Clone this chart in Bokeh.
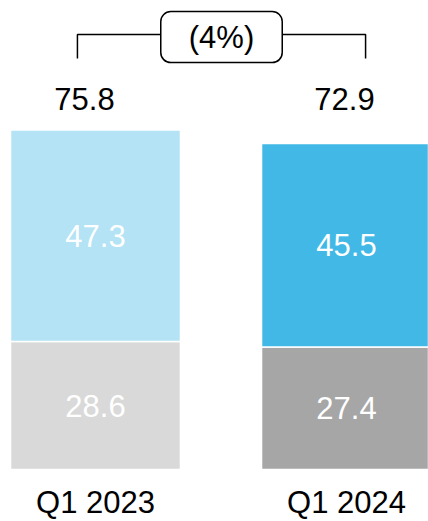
from bokeh.plotting import figure
from bokeh.models import ColumnDataSource, Range1d, Label
from bokeh.core.properties import value
from bokeh.embed import file_html
from bokeh.resources import INLINE

categories = ["Q1 2023", "Q1 2024"]
bottom_values = [28.6, 27.4]
top_values = [47.3, 45.5]
totals = [75.8, 72.9]
change_label = "(4%)"

bottom_colors = ["#D9D9D9", "#A6A6A6"]
top_colors = ["#B3E3F4", "#41B8E6"]

xpos = [0, 1]
FONT = value("Liberation Sans")
FS = "31px"

src = ColumnDataSource(dict(
    x=xpos,
    cat=categories,
    bottom=bottom_values,
    top=[b + t for b, t in zip(bottom_values, top_values)],
    top_vals=top_values,
    totals=totals,
    bcol=bottom_colors,
    tcol=top_colors,
    bmid=[b / 2 for b in bottom_values],
    tmid=[b + t / 2 for b, t in zip(bottom_values, top_values)],
    blab=[f"{v:.1f}" for v in bottom_values],
    tlab=[f"{v:.1f}" for v in top_values],
    totlab=[f"{v:.1f}" for v in totals],
    tot_off=[-11, -2],
))

p = figure(width=428, height=521, x_range=Range1d(-0.3785, 1.3267),
           y_range=Range1d(-11.63, 104.87), output_backend="svg",
           toolbar_location=None, min_border=0)
p.axis.visible = False
p.grid.visible = False
p.outline_line_color = None
p.background_fill_color = "white"
p.border_fill_color = "white"

W = 0.677
p.vbar(x="x", bottom=0, top="bottom", width=W, fill_color="bcol",
       line_color="white", line_width=1.5, source=src)
p.vbar(x="x", bottom="bottom", top="top", width=W, fill_color="tcol",
       line_color="white", line_width=1.5, source=src)

p.text(x="x", y="bmid", text="blab", source=src, text_color="white",
       text_font=FONT, text_font_size=FS, text_align="center",
       text_baseline="middle")
p.text(x="x", y="tmid", text="tlab", source=src, text_color="white",
       text_font=FONT, text_font_size=FS, text_align="center",
       text_baseline="middle")

p.text(x="x", y=82.85, text="totlab", x_offset="tot_off", source=src,
       text_color="black", text_font=FONT, text_font_size=FS,
       text_align="center", text_baseline="middle")

p.text(x="x", y=-7.4, text="cat", source=src, text_color="black",
       text_font=FONT, text_font_size=FS, text_align="center",
       text_baseline="middle")

# bracket
x0 = xpos[0] - 0.072
x1 = xpos[1] + 0.076
p.line(x=[x0, x0, x1, x1], y=[91.9, 97.27, 97.27, 91.9],
       line_color="black", line_width=1.5)

lab = Label(x=(x0 + x1) / 2, y=96.7, text=change_label,
            text_font="Liberation Sans", text_font_size=FS,
            text_color="black",
            text_align="center", text_baseline="middle",
            background_fill_color="white", border_line_color="black",
            border_line_width=1.5, border_radius=10, padding=(28, 8))
p.add_layout(lab)

open("out.html", "w").write(file_html(p, INLINE))
